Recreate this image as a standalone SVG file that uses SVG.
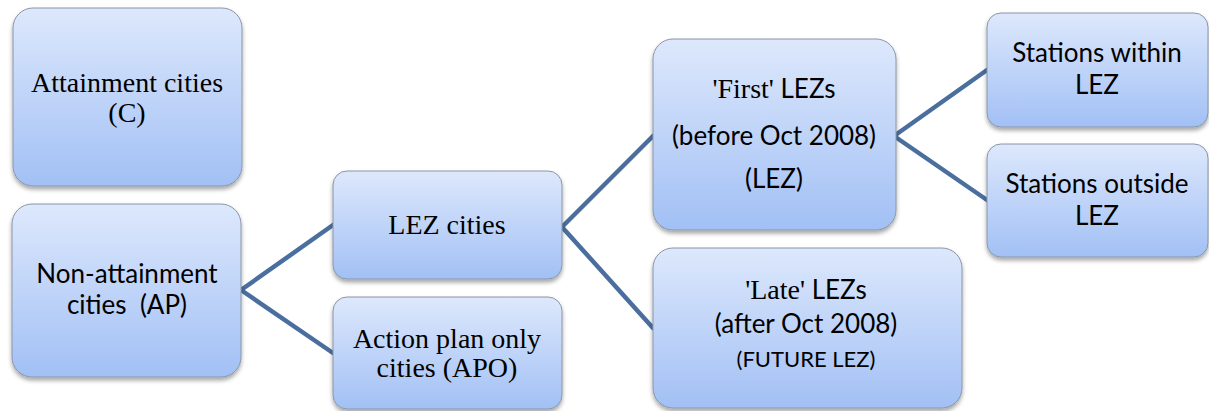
<svg xmlns="http://www.w3.org/2000/svg" width="1209" height="411" viewBox="0 0 1209 411">
<defs>
<linearGradient id="g" x1="0" y1="0" x2="0" y2="1">
<stop offset="0" stop-color="#dde8fc"/>
<stop offset="1" stop-color="#a2c0f5"/>
</linearGradient>
<filter id="sh" x="-10%" y="-10%" width="120%" height="125%">
<feDropShadow dx="0" dy="3" stdDeviation="2" flood-color="#000" flood-opacity="0.35"/>
</filter>
<style>
.box{fill:url(#g);stroke:#8a96a6;stroke-width:1;filter:url(#sh)}
.ser{font-family:"Liberation Serif",serif;font-size:28px;fill:#000;text-anchor:middle}
.sans{font-family:Lato,"Liberation Sans",sans-serif;font-size:26px;fill:#000;text-anchor:middle}
.q{font-family:"Liberation Serif",serif;font-size:28px}
.con{stroke:#4a6f9f;stroke-width:4.5;fill:none;stroke-linecap:round;stroke-linejoin:round}
</style>
</defs>
<rect width="1209" height="411" fill="#fff"/>
<g id="connectors">
<polyline class="con" points="333,225 241,290 333,353"/>
<polyline class="con" points="653,136 562,227 653,328"/>
<polyline class="con" points="987,70 894,136 987,200"/>
</g>
<g id="attainment">
<rect class="box" x="13" y="8" width="229" height="178" rx="20"/>
<text class="ser" x="127" y="92">Attainment cities</text>
<text class="ser" x="127" y="122">(C)</text>
</g>
<g id="non-attainment">
<rect class="box" x="12" y="204" width="229" height="173" rx="20"/>
<text class="sans" x="127" y="283">Non-attainment</text>
<text class="sans" x="127" y="314" xml:space="preserve">cities  (AP)</text>
</g>
<g id="lez-cities">
<rect class="box" x="333" y="171" width="229" height="108" rx="14"/>
<text class="ser" x="447" y="234">LEZ cities</text>
</g>
<g id="apo">
<rect class="box" x="333" y="297" width="229" height="112" rx="14"/>
<text class="ser" x="447" y="348">Action plan only</text>
<text class="ser" x="447" y="377">cities (APO)</text>
</g>
<g id="first-lez">
<rect class="box" x="653" y="39" width="243" height="191" rx="20"/>
<text class="sans" x="774" y="98"><tspan class="q">'First'</tspan> LEZs</text>
<text class="sans" x="774" y="145">(before Oct 2008)</text>
<text class="sans" x="774" y="188">(LEZ)</text>
</g>
<g id="late-lez">
<rect class="box" x="653" y="248" width="309" height="160" rx="20"/>
<text class="sans" x="806" y="299"><tspan class="q">'Late'</tspan> LEZs</text>
<text class="sans" x="806" y="333">(after Oct 2008)</text>
<text class="sans" x="806" y="367" style="font-size:22px">(FUTURE LEZ)</text>
</g>
<g id="stations-within">
<rect class="box" x="987" y="13" width="221" height="114" rx="14"/>
<text class="sans" x="1097" y="62">Stations within</text>
<text class="sans" x="1097" y="94">LEZ</text>
</g>
<g id="stations-outside">
<rect class="box" x="987" y="144" width="221" height="113" rx="14"/>
<text class="sans" x="1097" y="193">Stations outside</text>
<text class="sans" x="1097" y="225">LEZ</text>
</g>
</svg>
